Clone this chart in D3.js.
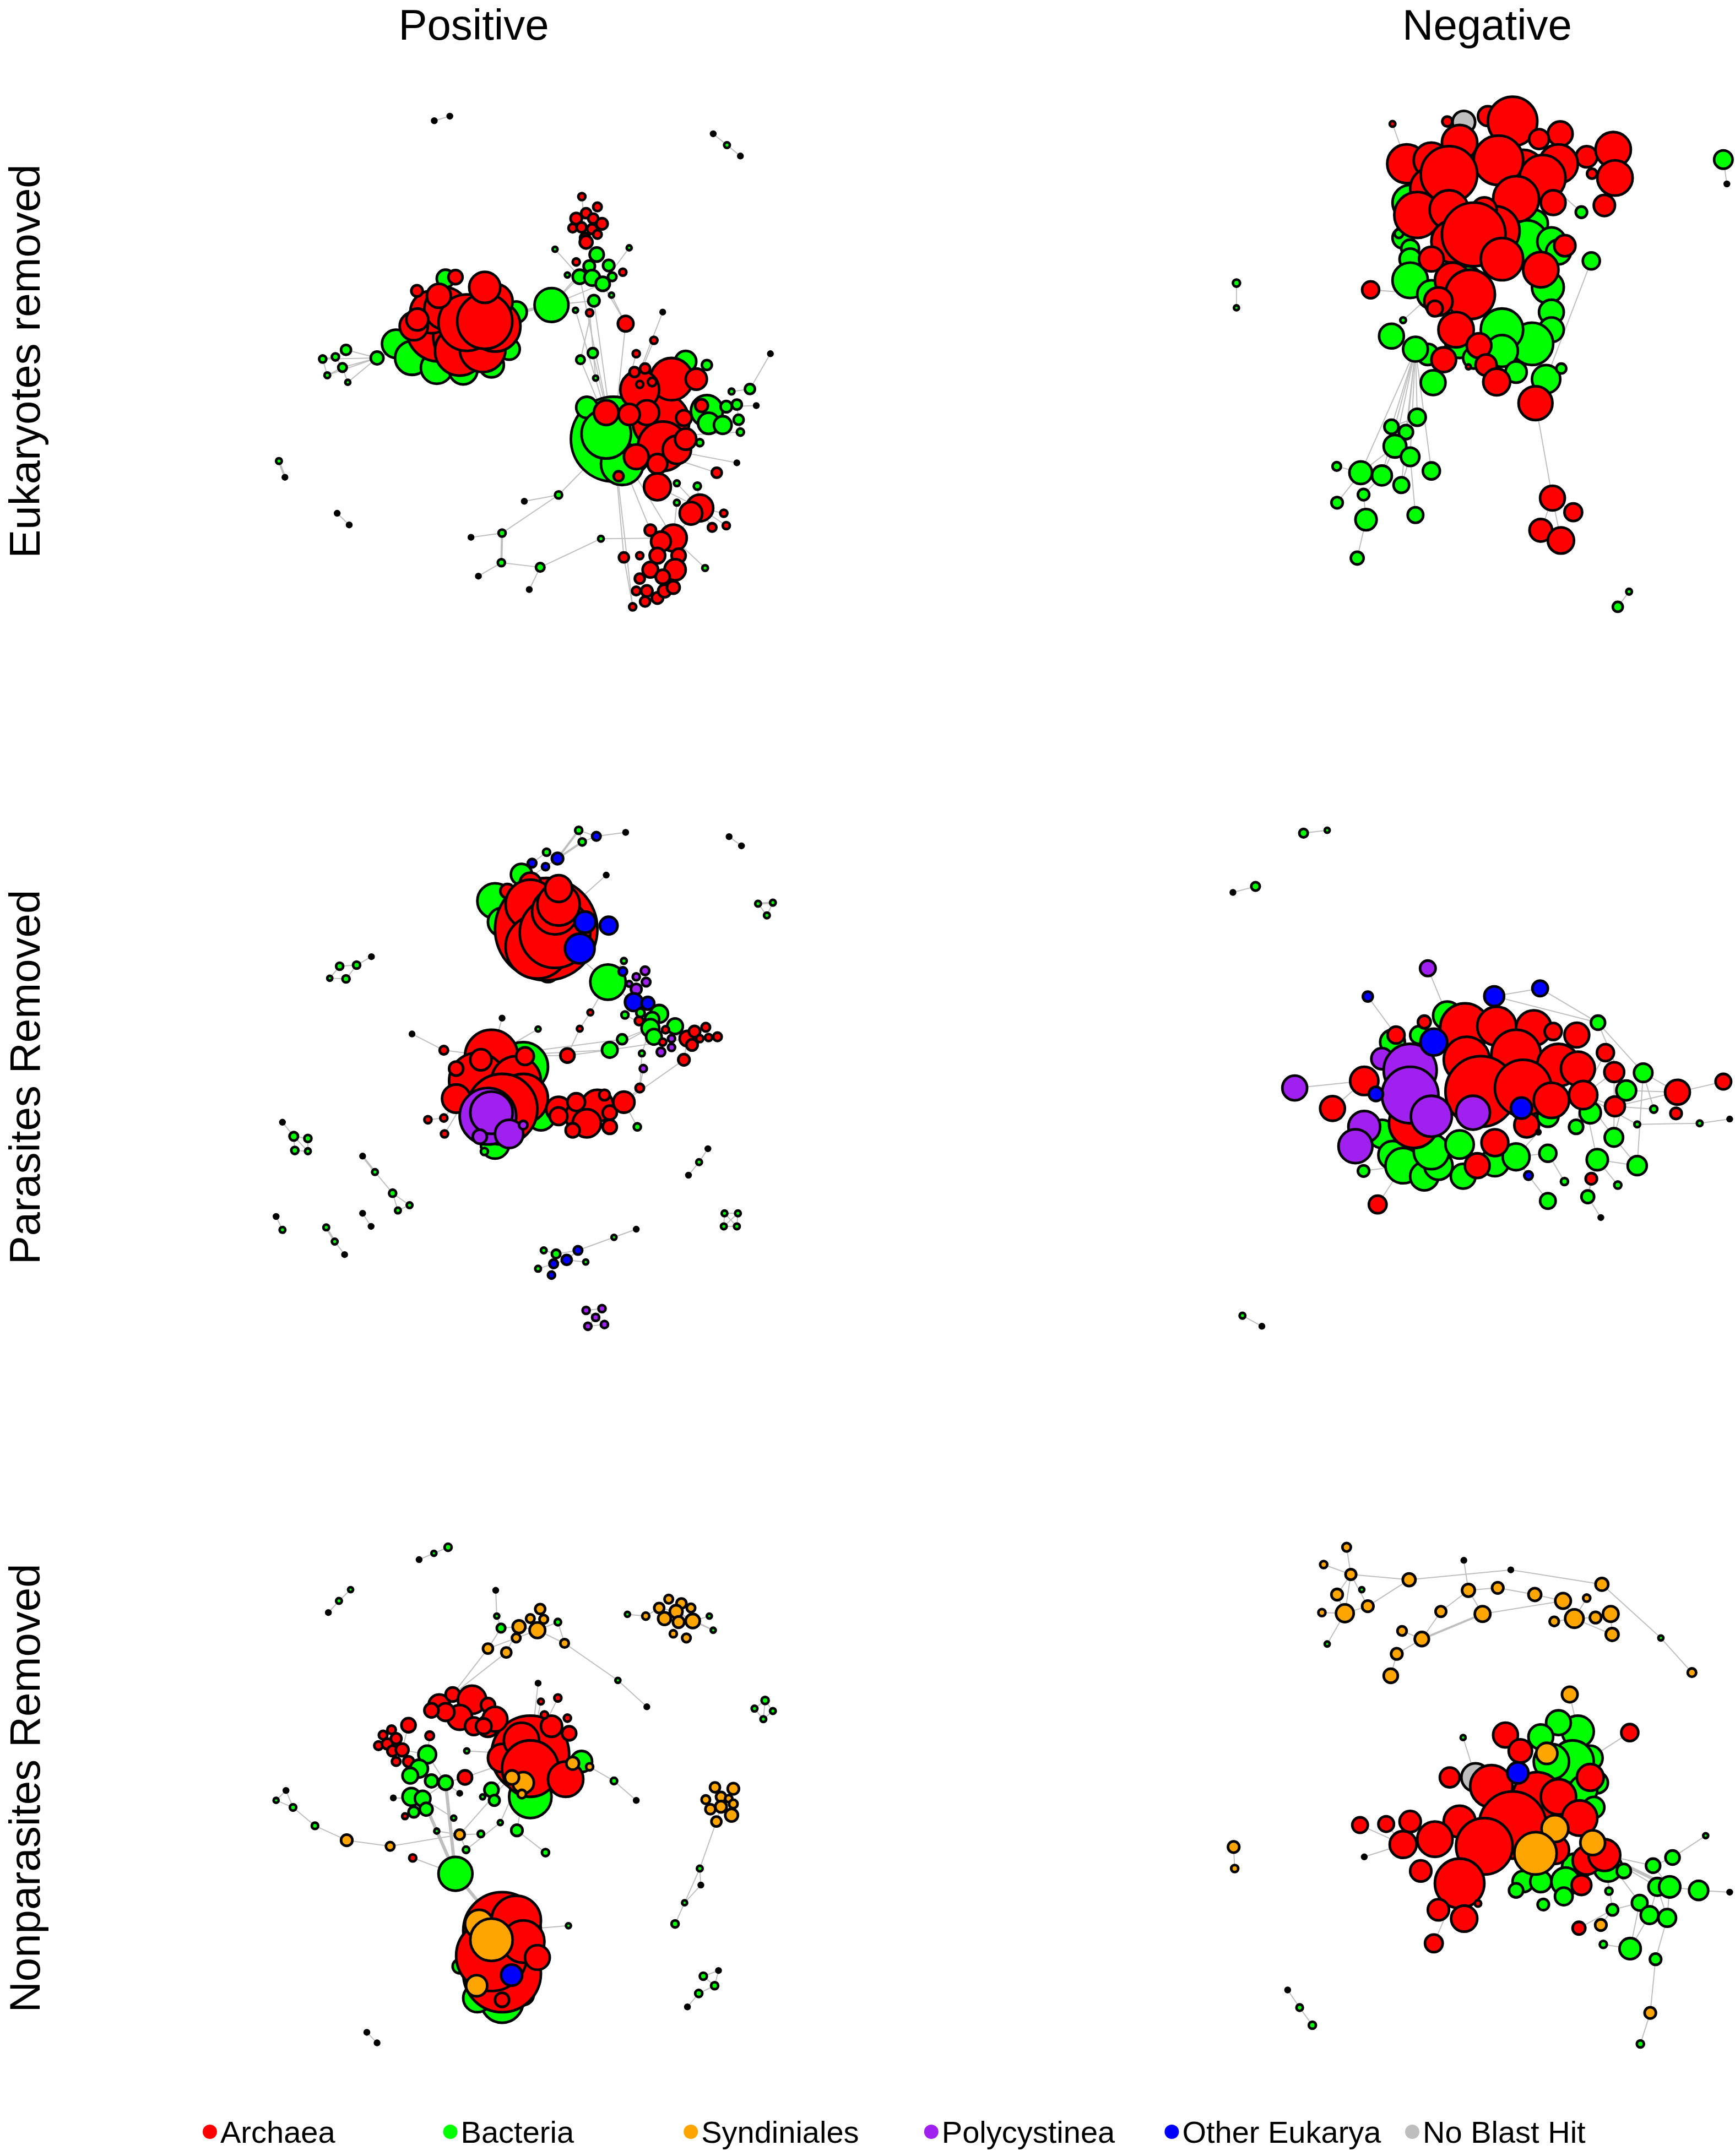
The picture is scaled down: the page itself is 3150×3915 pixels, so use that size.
<!DOCTYPE html>
<html>
<head>
<meta charset="utf-8">
<script src="https://cdn.jsdelivr.net/npm/d3@7"></script>
<style>
  body { margin: 0; background: #fff; }
  text { font-family: "Liberation Sans", Arial, Helvetica, sans-serif; fill: #000; }
</style>
</head>
<body>
<div id="chart"></div>
<script>
// Categorias y colores (colores de igraph / R)
const categories = ["Archaea", "Bacteria", "Syndiniales", "Polycystinea", "Other Eukarya", "No Blast Hit"];
const catColors = ["#FF0000", "#00FF00", "#FFA500", "#A020F0", "#0000FF", "#BEBEBE"];
const columnTitles = ["Positive", "Negative"];
const rowTitles = ["Eukaryotes removed", "Parasites Removed", "Nonparasites Removed"];

// Nodos: [x, y, tamaño, categoria, id]  (coordenadas del layout, 0..1560)
// Fila 1, Positive
const nodesEukPos = [
  [528,108,6,1,"i1"],[572,95,6,1,"i2"],
  [1318,145,6,1,"i3"],[1357,177,8,1,"i4"],[1395,208,6,1,"i5"],
  [88,1072,8,1,"i6"],[105,1118,6,1,"i7"],
  [253,1220,6,1,"i8"],[287,1253,6,1,"i9"],
  [212,783,10,1,"s1"],[248,777,10,1,"s2"],[278,757,14,1,"s3"],[268,807,12,1,"s4"],[225,829,8,1,"s5"],[283,849,7,1,"s6"],[366,780,18,1,"s7"],
  [880,1168,10,1,"c1"],[783,1186,6,1,"c2"],[720,1276,10,1,"c3"],[632,1288,6,1,"c4"],[718,1360,10,1,"c5"],[653,1398,6,1,"c6"],[828,1373,12,1,"c7"],[797,1436,6,1,"c8"],[1000,1292,8,1,"c9"],
  [420,740,40,1],[465,780,48,1],[535,808,45,1],[610,815,40,1],[690,800,35,1],[740,755,30,1],[560,555,25,1],[760,650,30,1],
  [540,700,90,0,"L"],[610,720,85,0],[600,760,70,0],[660,700,80,0],[665,755,65,0],[700,690,72,0],[520,650,60,0],[470,690,40,0],[560,640,60,0],[620,680,80,0],[700,620,50,0],[671,676,78,0],[541,604,34,0],[480,671,31,0],[479,590,16,0],[588,551,20,0],[671,580,44,0],
  [860,630,48,1,"g1"],
  [946,323,10,0,"t1"],[990,352,12,0],[958,370,14,0],[930,385,16,0],[978,385,14,0],[1003,400,16,0],[920,412,12,0],[945,410,14,0],[975,415,14,0],[990,430,12,0],[955,440,14,0],[958,452,18,0,"t2"],
  [988,487,20,1,"t3"],[930,508,10,0],[967,520,16,1],[1022,518,16,1],[1062,537,10,0],[1032,550,12,1],[940,550,20,1,"t4"],[975,553,22,1],[1005,570,20,1,"t5"],[980,618,16,1,"t6"],[968,652,10,0,"t7"],[928,645,7,1,"t8"],[1030,602,7,1,"t9"],[870,472,7,1,"t10"],[1080,468,7,1,"t11"],[905,545,7,1,"t12"],
  [1070,683,22,0,"m1"],[1175,650,6,1,"m2"],[1150,730,10,0,"m3"],[1100,768,10,0,"m4"],[1480,768,6,1,"m5"],[942,785,12,1,"m6"],[977,766,14,1,"m7"],[985,837,7,1,"m8"],
  [1035,1010,120,1,"R"],[1060,1080,60,1],[960,920,30,1],[1015,995,70,1],[1240,790,30,1],[1300,930,45,1],[1305,965,30,1],[1345,970,25,1],[1280,1020,10,1],
  [1170,960,80,0],[1200,840,60,0],[1110,870,55,0],[1270,840,30,0],[1175,1030,70,0],[1130,935,35,0],[1215,1040,40,0],[1100,1060,35,0],[1160,1080,28,0],[1160,1145,38,0,"R2"],[1015,935,35,0],[1080,940,30,0],[1235,950,22,0],[1285,915,18,0],[1240,1010,30,0],[1095,820,14,0],[1125,810,14,0],[1110,855,10,0],[1145,848,12,0],[1050,1115,14,0],
  [1355,918,16,1,"r1"],[1385,912,14,1,"r2"],[1390,955,14,1,"r3"],[1395,990,10,1,"r4"],[1422,868,14,1,"r5"],[1370,875,8,1,"r6"],[1300,800,14,1,"r7"],[1440,915,6,1,"r8"],
  [1328,1105,14,0,"r9"],[1385,1077,6,1,"r10"],[1215,1135,8,1,"r11"],[1273,1143,10,1,"r12"],[1215,1190,8,1,"r13"],
  [1280,1205,38,0,"b1"],[1255,1220,32,0],[1205,1290,38,0,"b2"],[1170,1300,28,0],[1140,1268,16,0,"b3"],[1160,1340,22,0],[1220,1340,20,0],[1210,1380,30,0],[1140,1380,22,0],[1175,1400,20,0],[1110,1405,14,0],[1130,1440,16,0],[1160,1460,16,0],[1180,1440,18,0],[1205,1430,18,0],[1125,1470,14,0],[1090,1485,10,0,"b4"],[1065,1345,14,0,"b5"],[1110,1340,10,0],[1100,1440,12,0],[1348,1220,10,0,"b6"],[1355,1255,10,0,"b7"],[1315,1260,12,0,"b8"],[1295,1375,8,1,"b9"]
];
const linksEukPos = [
  ["i1","i2"],["i3","i4"],["i4","i5"],["i6","i7",2],["i8","i9"],
  ["s1","s2"],["s1","s5"],["s2","s3"],["s2","s4"],["s4","s5"],["s4","s6"],["s1","s7"],["s3","s7"],["s4","s7"],["s6","s7"],["s5","s7"],["s7","L"],
  ["L","g1",3],["g1","t4"],["g1","t5"],["g1","t6"],["g1","t3"],
  ["t10","t4"],["t11","t5"],["t12","t4"],["t2","t3"],["t1","t2"],
  ["t6","m6"],["t7","m8"],["t6","R"],["t4","R"],["t5","m1"],["m1","R"],["t8","R"],["m6","R"],["m7","R"],["t9","m1"],
  ["m2","R"],["m3","R"],["m4","R"],["m5","r5"],
  ["r1","r2"],["r2","r3"],["r3","r4"],["r5","r6"],["r1","r8"],["r7","R"],["r1","R"],["r2","R"],["r4","R"],["r10","R"],["r9","R"],
  ["c1","c2"],["c1","R"],["c3","c1"],["c3","c4"],["c3","c5",2],["c5","c6"],["c5","c7"],["c7","c8"],["c7","c9"],["c9","b2"],
  ["R2","b1"],["R","b2"],["R","b5"],["R","b3"],["r11","b1"],["r13","b2"],["r12","b1"],["b1","b6"],["b1","b7"],["b1","b8"],["b2","b9"],["b5","b4"],["b1","b2"],["R","b4"]
];

// Fila 1, Negative
const nodesEukNeg = [
  [148,568,10,1,"j1"],[148,638,7,1,"j2"],[1527,218,26,1,"j3"],[1537,287,6,1,"j4"],[1260,1442,8,1,"j5"],[1228,1485,14,1,"j6"],[590,117,8,0,"j7"],
  [792,112,32,5],
  [640,340,50,1],[620,440,30,1],[640,470,25,1],[640,500,30,1],[640,560,50,1],[700,600,40,1,"H"],[800,570,50,1],[990,400,40,1],[970,450,60,1],[1040,450,40,1],[1060,480,35,1],[1030,580,45,1],[1040,650,35,1],[1040,700,35,1],[985,740,60,1],[900,700,60,1],[900,760,45,1],[940,820,30,1],[1025,840,40,1,"H3"],[1068,810,14,1],[780,740,40,1],[820,780,30,1],[690,770,30,1],[655,755,35,1,"H2"],[705,850,35,1],[587,718,35,1],[1125,367,16,1,"j8"],[1153,505,24,1,"j9"],[608,428,12,1],[620,673,8,1,"j11"],
  [780,170,50,0],[630,230,55,0,"T"],[700,220,50,0],[860,95,28,0],[930,110,70,0],[745,110,14,0],[1065,145,35,0],[1005,160,28,0],[1140,210,30,0],[1060,230,55,0],[960,250,60,0],[1015,270,65,0,"T2"],[890,220,70,0],[700,300,60,0],[750,260,80,0],[1215,190,50,0],[1220,270,50,0],[1155,258,14,0],[1190,348,30,0],[1045,340,35,0],[940,330,65,0],[660,375,65,0],[750,360,55,0],[880,420,70,0],[850,360,35,0],[760,450,60,0],[820,430,90,0],[900,500,60,0],[700,500,35,0],[1010,530,50,0],[1078,462,30,0],[760,560,50,0],[810,600,70,0],[720,620,40,0],[710,640,22,0],[770,700,50,0],[835,745,35,0],[735,785,35,0],[855,800,30,0],[885,848,38,0],[995,908,48,0,"q0"],[528,587,24,0,"j10"],[805,805,7,0],
  [660,948,24,1,"k1"],[587,975,20,1,"k2"],[628,990,20,1,"k3"],[597,1030,32,1,"k4"],[640,1060,26,1,"k5"],[500,1105,32,1,"k6"],[560,1113,28,1,"k7"],[615,1140,22,1,"k8"],[700,1100,24,1,"k9"],[432,1087,12,1,"k10"],[508,1167,16,1,"k11"],[433,1190,16,1,"k12"],[515,1238,30,1,"k13"],[655,1225,22,1,"k14"],[490,1347,18,1,"k15"],
  [1043,1177,35,0,"q1"],[1102,1217,25,0,"q2"],[1010,1268,32,0,"q3"],[1067,1297,37,0,"q4"]
];
const linksEukNeg = [
  ["j1","j2"],["j3","j4"],["j5","j6"],["j7","T"],["j8","T2"],["j9","H3"],["j10","H"],["j11","H"],
  ["k1","H2"],["k2","H2"],["k3","H2"],["k4","k3"],["k4","H2"],["k5","H2"],["k6","k4"],["k7","k4"],["k6","k10"],["k6","k12"],["k7","k11"],["k8","k5"],["k9","H2"],["k11","k13"],["k13","k15"],["k14","k5"],["k7","H2"],["k6","H2"],["k8","H2"],["k1","k2"],
  ["q0","q1"],["q1","q2"],["q1","q3"],["q1","q4"],["q3","q4"]
];

// Fila 2, Positive
const nodesParPos = [
  [937,90,10,1,"u1"],[987,107,12,4,"u2"],[947,123,10,1,"u3"],[1070,96,6,1,"u4"],[846,152,10,1,"u5"],[877,170,16,4,"u6"],[805,183,12,4,"u7"],[843,193,10,4,"u8"],[1015,217,6,1,"u9"],
  [775,215,30,1],[700,290,50,1,"U"],[720,350,40,1],[760,420,40,1],[850,490,30,1],
  [845,370,145,0,"U2"],[800,240,30,0],[735,262,20,0],[800,300,70,0],[820,420,90,0],[870,380,100,0],[870,320,65,0],[880,300,60,0],[880,255,38,0],
  [955,350,30,4],[1022,360,25,4],[940,425,42,4],
  [1020,520,50,1,"v0"],[1065,460,8,1,"v1"],[1062,490,12,4],[1100,505,10,3],[1125,488,12,3],[1128,520,12,3],[1080,525,8,3],[1100,540,15,3],[1093,577,25,4,"v2"],[1133,580,18,4],[1112,607,12,1],[1068,613,10,1,"v3"],[1108,630,12,0],[1165,610,25,1],[1145,625,20,1],[1140,650,25,1,"v4"],[1210,645,22,1],[1150,675,22,1],[1183,655,10,0],[1200,680,10,3],[1175,690,10,0],[1170,718,12,3],[1200,705,10,3],[1245,680,22,0,"v5"],[1265,660,16,0],[1258,698,16,0],[1297,648,12,0],[1280,680,10,0],[1305,677,10,0],[1330,675,12,0],[1235,740,16,0,"v6"],
  [1060,682,14,1,"w1"],[1025,712,22,1,"w2"],[1116,722,8,1,"w3"],[1120,765,10,3,"w4"],[1110,820,12,0,"w5"],[1103,930,10,1,"w6"],[970,606,8,0,"w7"],[940,652,8,0,"w8"],[905,728,20,0,"w9"],[822,653,7,1,"w10"],[720,622,6,1,"w11"],[465,667,6,1,"w12"],
  [780,760,70,1],[700,980,40,1],[670,1000,10,1],[830,900,40,1],
  [690,730,75,0,"V"],[650,800,80,0],[760,800,70,0],[590,850,40,0],[590,765,20,0],[660,740,30,0],[785,730,25,0],[780,850,70,0],[720,880,100,0],
  [880,880,35,0],[950,900,50,0],[990,870,45,0],[930,860,25,0],[960,920,40,0],[1025,890,20,0],[1065,860,30,0,"V2"],[920,940,20,0],[880,900,25,0],[1025,930,20,0],[1010,840,15,0],
  [680,900,80,3],[690,890,60,3],[740,950,40,3],[657,958,20,3],[780,925,12,3],
  [555,713,12,0,"x1"],[510,910,10,0,"x2"],[555,905,10,0,"x3"],[557,950,10,0,"x4"],
  [98,917,6,1,"y1"],[130,957,12,1,"y2"],[170,963,10,1,"y3"],[133,997,10,1,"y4"],[170,999,8,1,"y5"],
  [325,1013,6,1,"y6"],[360,1058,8,1,"y7"],[410,1118,10,1,"y8"],[458,1152,8,1,"y9"],[425,1167,8,1,"y10"],
  [80,1184,6,1,"y11"],[98,1222,8,1,"y12"],
  [222,1215,8,1,"y13"],[246,1255,8,1,"y14"],[274,1292,6,1,"y15"],
  [325,1175,6,1,"y16"],[349,1212,6,1,"y17"],
  [1303,992,6,1,"y18"],[1278,1030,8,1,"y19"],[1248,1067,6,1,"y20"],
  [1350,1175,8,1,"y21"],[1388,1175,8,1,"y22"],[1348,1212,8,1,"y23"],[1385,1212,8,1,"y24"],
  [838,1280,8,1,"z1"],[873,1290,12,1,"z2"],[935,1280,12,4,"z3"],[903,1307,14,4,"z4"],[866,1318,12,4,"z5"],[822,1332,8,1,"z6"],[860,1350,10,4,"z7"],[957,1313,7,1,"z8"],[1037,1243,7,1,"z9"],[1100,1220,6,1,"z10"],
  [958,1450,10,3,"p1"],[1003,1445,10,3,"p2"],[985,1470,10,3,"p3"],[963,1495,10,3,"p4"],[1010,1490,10,3,"p5"],
  [1363,108,6,1,"e1"],[1398,134,6,1,"e2"],[1445,298,8,1,"e3"],[1487,295,8,1,"e4"],[1470,331,8,1,"e5"],
  [260,475,10,1,"f1"],[308,472,10,1,"f2"],[232,509,7,1,"f3"],[278,511,10,1,"f4"],[350,448,6,1,"f5"]
];
const linksParPos = [
  ["u1","u2"],["u1","u3"],["u3","u2"],["u2","u4"],["u1","u6",2],["u3","u6",2],["u5","u6"],["u5","u7"],["u6","u8"],["u7","U"],["u8","U"],["u9","U2"],
  ["U2","v0"],["v0","v1"],["v0","v2"],["v2","v4"],["v4","v5"],["v5","v6"],["v6","V2"],["w1","v4"],["w2","v4"],["w2","V"],["w3","v4"],["w4","w5"],["w5","V2"],["w5","w3"],["w6","V2"],["w7","v0"],["w8","w7"],["w9","V"],["w9","w2"],["w10","V"],["w11","V"],["w12","x1"],["x1","V"],["x2","x3"],["x3","V"],["x4","V"],["w2","v5"],["w8","w9"],["w1","V"],["v3","v4"],
  ["y1","y2"],["y2","y3"],["y2","y4"],["y3","y5"],["y4","y5"],["y2","y5"],["y6","y7",2],["y7","y8"],["y8","y9"],["y8","y10"],["y9","y10"],["y11","y12"],["y13","y14",2],["y14","y15"],["y16","y17"],["y18","y19"],["y19","y20"],["y21","y22"],["y21","y23"],["y22","y24"],["y23","y24"],["y21","y24"],["y22","y23"],
  ["z1","z2"],["z2","z4"],["z3","z4"],["z2","z3"],["z4","z5"],["z5","z6"],["z5","z7"],["z4","z8"],["z3","z9"],["z9","z10"],["z2","z5"],
  ["p1","p2"],["p1","p3"],["p2","p3"],["p3","p4"],["p3","p5"],["p4","p5"],
  ["e1","e2"],["e3","e4",2],["e3","e5"],["e4","e5"],
  ["f1","f2"],["f1","f3"],["f3","f4"],["f2","f4"],["f2","f5"]
];

// Fila 2, Negative
const nodesParNeg = [
  [338,98,12,1,"a1"],[405,90,7,1,"a2"],[138,266,6,1,"a3"],[202,249,12,1,"a4"],[165,1465,8,1,"a5"],[220,1495,6,1,"a6"],
  [690,481,22,3,"o1"],[520,561,14,4,"o2"],[878,560,28,4,"o3"],[1008,538,22,4,"o4"],[313,820,35,3,"o5"],[420,878,35,0,"o6"],[548,1150,25,0,"o7"],
  [745,615,40,1,"Dg"],[590,690,35,1],[665,670,25,1],[560,950,40,1],[590,1010,40,1],[620,1040,50,1,"Dg2"],[680,1070,40,1],[720,1040,40,1],[790,1070,35,1],[700,1000,50,1],[780,980,40,1],[880,1030,40,1],[940,1015,38,1,"D2"],[1030,900,30,1],[1150,890,30,1],
  [650,920,70,0],[510,800,40,0,"Dl"],[600,670,24,0,"Dr"],[680,633,18,0],[795,650,70,0],[885,645,55,0],[990,650,50,0],[1045,660,24,0],[1112,670,35,0],[800,740,65,0],[940,725,70,0,"D"],[1060,755,60,0],[1115,765,48,0],[840,830,100,0],[960,820,80,0],[1040,855,50,0],[1130,840,40,0,"D3"],[970,925,35,0],[880,975,38,0],[830,1040,35,0],
  [560,737,30,3],[640,770,75,3],[640,840,80,3],[700,900,58,3],[818,890,48,3],[510,930,45,3],[485,985,48,3],
  [707,690,38,4],[543,837,20,4],[955,877,30,4],[975,1068,12,4,"o8"],
  [1193,720,24,0,"n1"],[1218,775,28,0,"n2"],[1220,872,28,0,"n3"],[1397,832,35,0,"n4"],[1527,802,22,0,"n5"],[1393,892,16,0,"n6"],[1153,1077,16,0,"n7"],
  [1172,635,20,1,"n8"],[1300,777,26,1,"n9"],[1252,827,28,1,"n10"],[1217,960,26,1,"n11"],[1170,1023,30,1,"n12"],[1283,1040,27,1,"n13"],[1030,1005,24,1,"n14"],[1110,930,20,1,"n15"],[1030,1140,22,1,"n16"],[1143,1128,18,1,"n17"],[1228,1095,10,1,"n18"],[1077,1085,10,1,"n19"],[508,1055,16,1,"n20"],[1330,880,10,1,"n21"],
  [1283,923,8,1,"n22"],[1460,920,8,1,"n23"],[1545,908,6,1,"n24"],[1180,1187,6,1,"n25"],[1003,945,6,1,"n26"]
];
const linksParNeg = [
  ["a1","a2"],["a3","a4"],["a5","a6"],["o1","Dg"],["o2","Dr"],["o3","n8"],["o4","n8"],["o4","o3"],["n8","n9"],["n8","n10"],["o5","Dl"],["o6","Dl"],["o7","Dg2"],
  ["n1","D3"],["n2","D3"],["n3","D3"],["n4","n9"],["n4","n10"],["n4","n5"],["n4","n3"],["n6","n4"],["n9","n21"],["n21","n3"],["n22","n23"],["n23","n24"],["n22","D3"],["n11","D3"],["n12","D3"],["n13","n11"],["n13","n12"],["n14","D2"],["n15","D3"],["n16","o8"],["n17","n12"],["n18","n12"],["n19","n14"],["n20","Dg2"],["n25","n17"],["n26","D2"],["n2","n11"],["n10","n11"],["o8","D2"],["n7","n17"],["n9","n13"]
];

// Fila 3, Positive
const nodesNonPos = [
  [485,128,6,1,"a1"],[527,110,7,1,"a2"],[567,93,10,1,"a3"],[228,278,6,1,"a4"],[258,245,8,1,"a5"],[291,213,7,1,"a6"],[337,1467,6,1,"a7"],[366,1497,6,1,"a8"],
  [1290,1308,10,1,"b1"],[1333,1292,6,1,"b2"],[1322,1335,10,1,"b3"],[1277,1357,10,1,"b4"],[1245,1395,6,1,"b5"],
  [1465,527,10,1,"c1"],[1435,550,8,1,"c2"],[1487,557,8,1,"c3"],[1460,580,8,1,"c4"],
  [1075,283,7,1,"d1"],[1127,288,10,2,"d2"],[1165,265,14,2,"d3"],[1192,240,12,2],[1228,252,14,2],[1255,265,12,2],[1213,275,18,2,"d4"],[1180,295,18,2],[1220,305,16,2],[1260,302,20,2,"d5"],[1205,338,10,2],[1242,350,12,2],[1307,288,7,1,"d6"],[1318,328,7,1,"d7"],
  [1323,773,14,2],[1375,777,16,2],[1297,808,12,2],[1340,800,14,2],[1362,805,10,2],[1340,828,16,2,"e0"],[1310,835,14,2],[1375,820,12,2],[1370,852,18,2],[1327,870,14,2,"e1"],[1280,1003,8,1,"e2"],[1283,1050,6,1,"e3"],[1237,1100,7,1,"e4"],[1210,1160,10,1,"e5"],
  [702,215,6,1,"f1"],[705,288,7,1,"f2"],[717,322,12,1,"f3"],[828,268,14,2],[800,295,12,2],[838,297,12,2],[768,318,18,2,"f4"],[820,328,22,2,"f5"],[878,305,9,1,"f6"],[760,350,12,2],[680,380,14,2,"f7"],[732,391,14,2,"f8"],[897,365,12,2,"f9"],[1048,470,7,1,"f10"],[1130,545,6,1,"f11"],
  [800,800,60,1],[945,700,30,1],
  [800,680,110,0,"M"],[720,690,40,0],[775,640,50,0],[800,720,80,0],[900,750,50,0],[860,600,30,0],[910,620,20,0],[680,600,30,0],
  [542,540,30,0],[580,510,20,0,"g7"],[635,525,40,0],[600,575,35,0],[560,560,25,0],[520,555,20,0],[640,600,25,0],[680,540,20,0],[700,580,35,0],[668,600,22,0],[455,597,20,0,"g1"],[515,627,12,0,"g2"],
  [920,705,18,2],[780,760,30,2],[748,745,20,2],[776,792,12,2],[968,715,10,2,"g3"],
  [830,530,8,0,"g4"],[878,520,10,0,"g5"],[905,577,10,0],[840,568,10,0],[822,478,6,1,"g6"],
  [383,625,12,0],[407,610,12,0],[370,655,12,0],[395,650,15,0],[420,635,15,0],[410,670,15,0],[437,667,18,0,"h1"],[455,700,15,0],[420,700,12,0],
  [508,680,25,1,"h2"],[485,720,25,1],[460,740,22,1],[520,755,18,1],[560,760,20,1,"h3"],[463,800,25,1],[495,805,22,1,"h4"],[470,843,15,1],[505,835,18,1],[690,780,20,1,"h5"],[698,810,15,1],[762,895,16,1,"h6"],
  [615,745,20,0,"k1"],[620,670,7,1,"k2"],[600,790,6,1,"k3"],[665,800,7,1,"k4"],[445,855,8,0,"k5"],[412,803,6,1,"k6"],[583,860,7,1,"k7"],[535,897,7,1,"k8"],[600,907,14,2,"k9"],[660,905,9,1,"k10"],[618,950,9,1,"k11"],[715,873,7,1,"k12"],[467,973,10,0,"k13"],[843,958,10,1,"k14"],[1037,755,9,1,"k15"],[1100,810,6,1,"k16"],
  [108,782,6,1,"l1"],[80,810,7,1,"l2"],[128,830,9,1,"l3"],[190,882,9,1,"l4"],[280,923,16,2,"l5"],[403,940,12,2,"l6"],
  [588,1018,48,1,"G"],
  [720,1380,60,1],[650,1370,40,1],[780,1360,30,1],[600,1280,20,1],
  [720,1180,110,0,"N"],[720,1300,110,0],[690,1250,100,0],[760,1150,70,0],[780,1210,60,0],[820,1255,35,0],[720,1375,20,0],
  [655,1160,40,2],[690,1205,60,2],[648,1335,30,2],
  [747,1305,30,4],
  [908,1165,7,1,"n1"]
];
const linksNonPos = [
  ["a1","a2"],["a2","a3"],["a4","a5"],["a5","a6"],["a7","a8"],["b1","b2"],["b1","b3"],["b2","b3"],["b3","b4"],["b4","b5"],["c1","c2"],["c1","c3"],["c2","c4"],["c3","c4"],["c1","c4"],
  ["d1","d2"],["d2","d3"],["d3","d4"],["d4","d5"],["d5","d6"],["d5","d7"],["d4","d7"],
  ["e0","e1"],["e1","e2"],["e2","e3"],["e2","e4"],["e4","e5"],["e3","e4"],
  ["f1","f2"],["f2","f3"],["f3","f4"],["f4","f5"],["f5","f6"],["f6","f9"],["f5","f9"],["f7","f3"],["f8","f4"],["f7","f5"],["f9","f10"],["f10","f11"],["f7","g7"],["f8","g7"],
  ["g6","M"],["g4","M"],["g5","M"],["g3","k15"],["k15","k16"],["g3","M"],
  ["h1","h2"],["g1","h1"],["g2","h2"],["h2","h3"],["h3","k1"],["h4","k6"],["h4","h3"],["k2","M"],["k3","h3"],["k4","h5"],["h5","M"],["k5","h4"],["k7","h4"],["k8","k9"],["k9","k10"],["k9","M"],["h6","k14"],["h6","M"],["k11","k9"],["k12","M"],["k13","G"],
  ["l1","l2"],["l1","l3"],["l2","l3"],["l3","l4"],["l4","l5"],["l5","l6"],["l6","k9"],["h3","G",3],["h4","G",3],["G","N",3],["N","n1"],["k12","k11"],["k1","M"]
];

// Fila 3, Negative
const nodesNonNeg = [
  [460,93,12,2,"a1"],[395,142,10,2,"a2"],[472,170,15,2,"a3"],[433,227,16,2,"a4"],[503,213,7,1,"a5"],[455,280,25,2,"a6"],[390,278,10,2,"a7"],[520,260,16,2,"a8"],[405,367,7,1,"a9"],[637,185,18,2,"a10"],[792,130,6,1,"a11"],[805,215,18,2,"a12"],[888,208,16,2,"a13"],[925,157,6,1,"a14"],[993,227,18,2,"a15"],[727,275,15,2,"a16"],[845,282,22,2,"a17"],[617,330,13,2,"a18"],[673,353,20,2,"a19"],[602,395,16,2,"a20"],[585,457,20,2,"a21"],[1073,245,22,2,"a22"],[1140,237,10,2,"a23"],[1048,303,13,2,"a24"],[1105,295,26,2,"a25"],[1165,292,16,2,"a26"],[1208,282,22,2,"a27"],[1212,340,18,2,"a28"],[1183,198,18,2,"a29"],[1350,350,7,1,"a30"],[1438,448,12,2,"a31"],
  [1115,615,45,1,"g0"],[1060,590,35,1],[1010,630,35,1],[1150,690,35,1,"gF"],[1100,700,60,1],[1040,700,50,1],[1170,760,30,1],[1130,780,40,1],[1160,830,30,1],[1200,1000,40,1],[1110,1000,40,1],[960,1040,30,1],[1010,1040,30,1],[1080,1040,40,1],[940,1065,20,1],[1075,1082,25,1],[1017,1105,16,1],
  [825,745,40,5,"gy"],
  [910,625,35,0],[952,670,33,0],[752,745,28,0],[870,770,60,0],[1000,800,70,0],[930,880,95,0,"F"],[780,870,45,0],[710,920,50,0],[640,870,30,0],[620,935,38,0,"r6"],[670,1010,30,0],[850,940,80,0],[780,1045,70,0,"F2"],[1060,800,50,0],[1120,860,50,0],[1150,745,38,0],[1050,950,40,0],[1140,980,40,0],[1190,965,45,0,"F3"],[1125,1050,28,0],
  [720,1120,30,0],[793,1145,37,0],[707,1215,25,0,"r1"],[498,880,22,0,"r2"],[572,877,22,0,"r3"],[1262,618,24,0,"r4"],[1118,1172,18,0,"r5"],[832,1102,9,0],
  [1027,677,30,2],[1050,890,38,2],[995,960,60,2],[1157,930,35,2],[1092,510,22,2,"o1"],[1180,1163,16,2,"o2"],
  [945,732,30,4],
  [1383,972,20,1,"q1"],[1328,995,20,1,"q2"],[1340,1055,25,1,"q3"],[1375,1055,30,1,"q4"],[1457,1065,27,1,"q5"],[1290,1100,22,1,"q6"],[1318,1135,25,1,"q7"],[1368,1143,25,1,"q8"],[1213,1120,16,1,"q9"],[1263,1230,30,1,"q10"],[1335,1260,16,1,"q11"],[1245,1010,20,1,"q12"],[1203,1067,10,1,"q13"],[1187,1218,10,1,"q14"],
  [790,632,7,1,"d1"],[510,970,6,1,"d2"],[1477,910,7,1,"d3"],[1545,1070,6,1,"d4"],
  [140,942,16,2,"i1"],[143,1003,10,2,"i2"],[293,1347,6,1,"i3"],[327,1397,9,1,"i4"],[363,1447,10,1,"i5"],[1320,1412,16,2,"i6"],[1292,1500,10,1,"i7"]
];
const linksNonNeg = [
  ["a1","a3"],["a2","a3"],["a3","a4"],["a3","a6"],["a3","a10"],["a4","a6"],["a6","a7"],["a6","a8"],["a6","a9"],["a3","a8"],["a10","a8"],["a10","a14"],["a14","a29"],
  ["a11","a12"],["a12","a16"],["a12","a13"],["a12","a17"],["a13","a15"],["a15","a22"],["a16","a19"],["a17","a19",2],["a18","a19"],["a19","a20"],["a20","a21"],["a17","a22"],["a22","a25"],["a25","a26"],["a26","a27"],["a25","a28"],["a27","a28"],["a24","a25"],["a23","a25"],["a29","a30"],["a30","a31"],
  ["d1","gy"],["d2","r6"],["r2","r6"],["r3","r6"],["r4","gF"],["o1","g0"],["r1","F2"],["r5","q9"],["o2","q9"],
  ["q1","d3"],["q1","q2"],["q2","F3"],["q3","F3"],["q4","F3",3],["q5","q4"],["q5","d4"],["q6","F3"],["q7","q3"],["q8","q4"],["q9","F3"],["q10","q7"],["q10","q6"],["q11","q8"],["q11","i6"],["i6","i7"],["q12","F3"],["q13","F3"],["q14","q10"],
  ["i1","i2"],["i3","i4"],["i4","i5"],["q7","q8"],["q2","q4"],["q6","q9"],["q3","q8"]
];

const panels = [
  { row: 0, col: 0, nodes: nodesEukPos, links: linksEukPos },
  { row: 0, col: 1, nodes: nodesEukNeg, links: linksEukNeg },
  { row: 1, col: 0, nodes: nodesParPos, links: linksParPos },
  { row: 1, col: 1, nodes: nodesParNeg, links: linksParNeg },
  { row: 2, col: 0, nodes: nodesNonPos, links: linksNonPos },
  { row: 2, col: 1, nodes: nodesNonNeg, links: linksNonNeg }
];

// Dimensiones generales
const W = 3150, H = 3915;
const colX = [450, 2150];
const rowY = [150, 1450, 2750];
const panelSize = 1000;
const layoutMax = 1560;

const svg = d3.select("#chart")
  .append("svg")
  .attr("width", W)
  .attr("height", H)
  .attr("viewBox", `0 0 ${W} ${H}`);

svg.append("rect").attr("width", W).attr("height", H).attr("fill", "#fff");

const color = d3.scaleOrdinal().domain(d3.range(categories.length)).range(catColors);
const rScale = d3.scaleLinear().domain([0, layoutMax]).range([0, panelSize]);

panels.forEach(p => {
  const x = d3.scaleLinear().domain([0, layoutMax]).range([colX[p.col], colX[p.col] + panelSize]);
  const y = d3.scaleLinear().domain([0, layoutMax]).range([rowY[p.row], rowY[p.row] + panelSize]);

  const byId = {};
  p.nodes.forEach(n => { if (n[4]) byId[n[4]] = n; });

  const g = svg.append("g").attr("class", "panel");

  // Aristas
  g.selectAll("line.edge")
    .data(p.links.filter(l => byId[l[0]] && byId[l[1]]))
    .enter()
    .append("line")
    .attr("class", "edge")
    .attr("x1", d => x(byId[d[0]][0]))
    .attr("y1", d => y(byId[d[0]][1]))
    .attr("x2", d => x(byId[d[1]][0]))
    .attr("y2", d => y(byId[d[1]][1]))
    .attr("stroke", "#bfbfbf")
    .attr("stroke-width", d => 2 * (d[2] || 1));

  // Nodos (los muy pequeños quedan tapados por el borde: se ven negros)
  g.selectAll("circle.node")
    .data(p.nodes)
    .enter()
    .append("circle")
    .attr("class", "node")
    .attr("cx", d => x(d[0]))
    .attr("cy", d => y(d[1]))
    .attr("r", d => rScale(d[2]))
    .attr("fill", d => d[2] <= 6 ? "#000" : color(d[3]))
    .attr("stroke", "#000")
    .attr("stroke-width", 4.8);
});

// Titulos de columna
svg.selectAll("text.col-title")
  .data(columnTitles)
  .enter()
  .append("text")
  .attr("class", "col-title")
  .attr("x", (d, i) => [860, 2700][i])
  .attr("y", 72)
  .attr("text-anchor", "middle")
  .style("font-size", "78px")
  .text(d => d);

// Titulos de fila (rotados)
svg.selectAll("text.row-title")
  .data(rowTitles)
  .enter()
  .append("text")
  .attr("class", "row-title")
  .attr("transform", (d, i) => `translate(72, ${[656, 1956, 3247][i]}) rotate(-90)`)
  .attr("text-anchor", "middle")
  .style("font-size", "78px")
  .text(d => d);

// Leyenda
const legend = svg.selectAll("g.legend")
  .data(categories)
  .enter()
  .append("g")
  .attr("class", "legend")
  .attr("transform", (d, i) => `translate(${381 + i * 436.6}, 0)`);

legend.append("circle")
  .attr("cx", 0)
  .attr("cy", 3871)
  .attr("r", 13)
  .attr("fill", (d, i) => color(i));

legend.append("text")
  .attr("x", 19)
  .attr("y", 3891)
  .style("font-size", "56px")
  .text(d => d);
</script>
</body>
</html>
